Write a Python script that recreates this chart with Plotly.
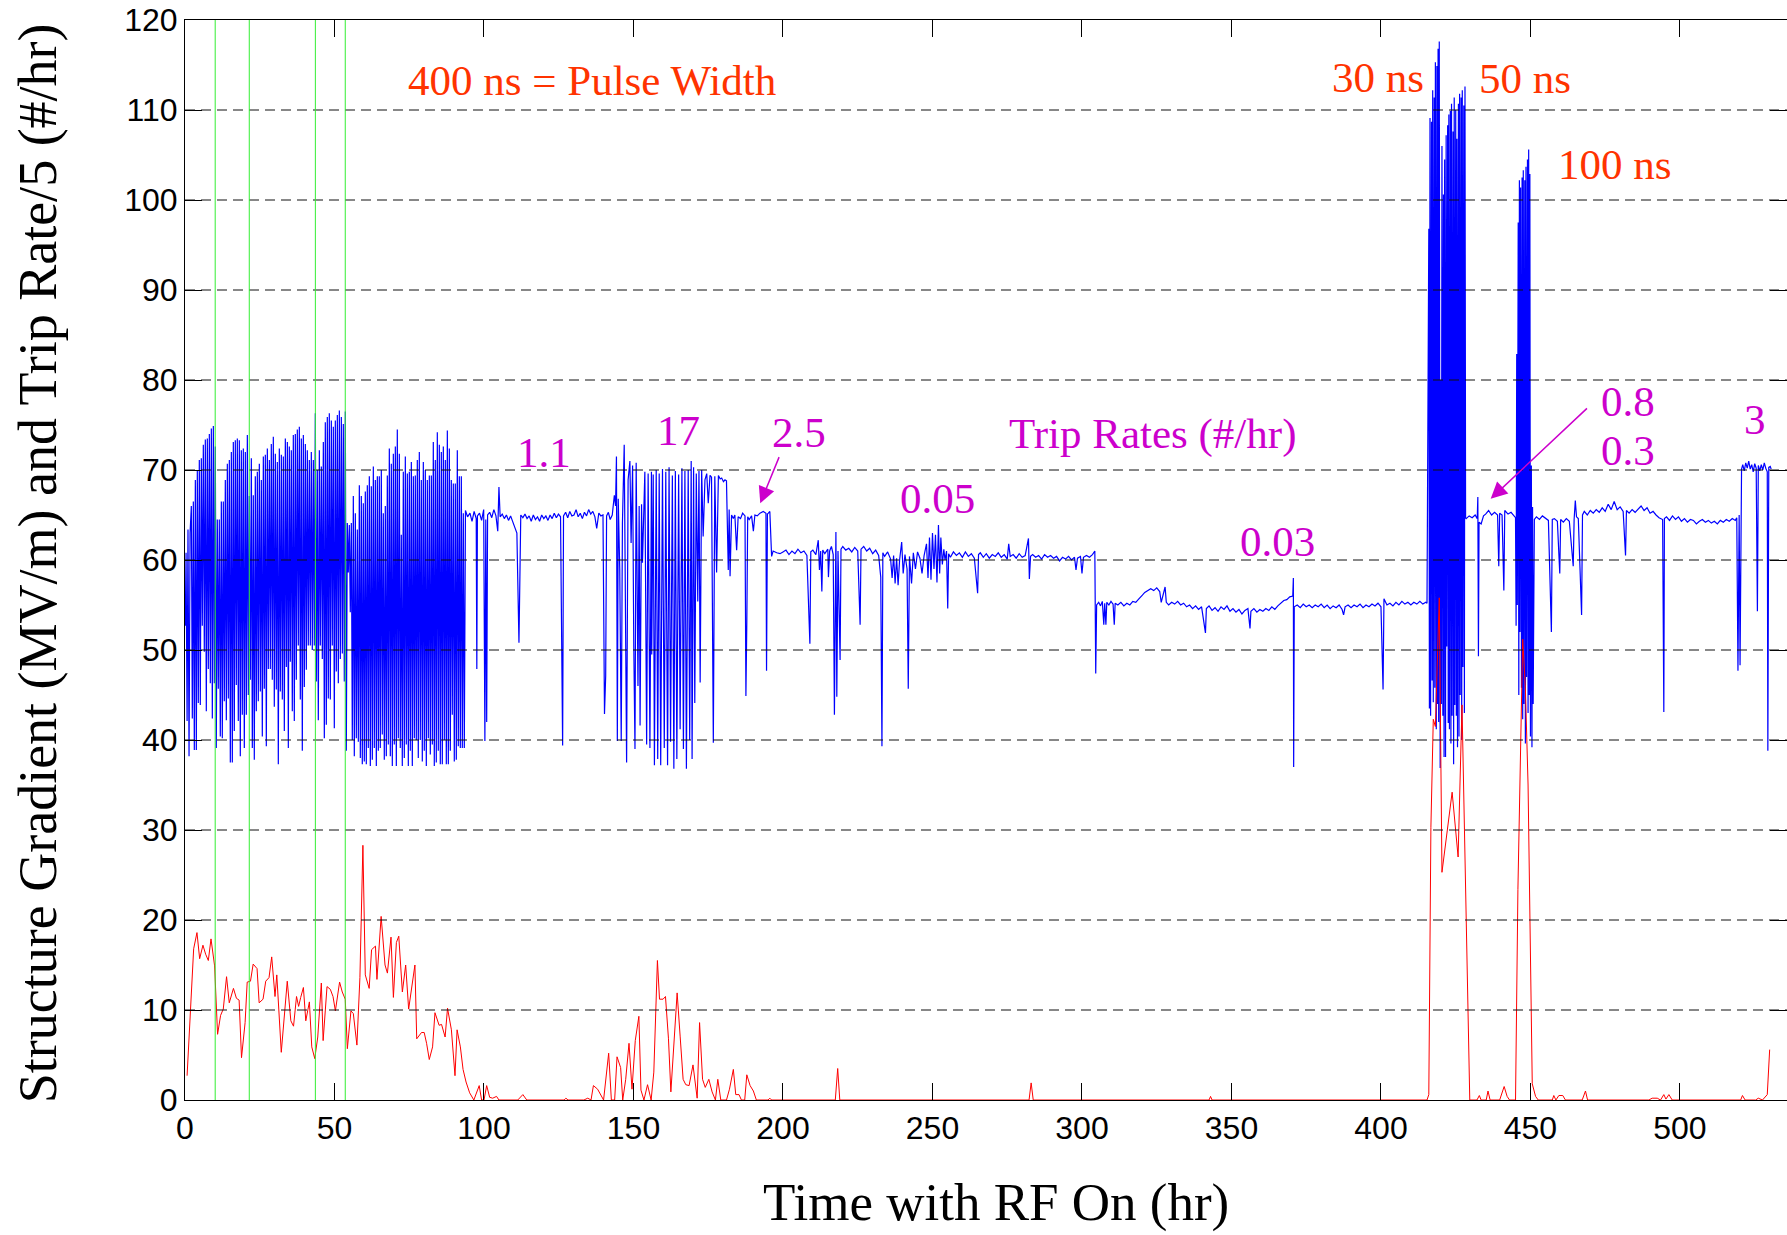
import plotly.graph_objects as go

# ---------------- data ----------------
x_ticks = [0, 50, 100, 150, 200, 250, 300, 350, 400, 450, 500]
y_ticks = [0, 10, 20, 30, 40, 50, 60, 70, 80, 90, 100, 110, 120]
green_marks_hr = [10.1, 21.5, 43.6, 53.6]

# Structure gradient (MV/m), 0-93 hr (conditioning with frequent trips)
blue_hr_a = [
    0.1, 0.35, 0.7, 1.0, 1.35, 1.7, 2.12, 2.45, 2.79, 3.12,
    3.46, 3.79, 4.12, 4.45, 4.79, 5.12, 5.46, 5.79, 6.13, 6.46,
    6.80, 7.13, 7.47, 7.80, 8.14, 8.47, 8.81, 9.14, 9.48, 9.81,
    10.14, 10.47, 10.81, 11.14, 11.48, 11.81, 12.15, 12.48, 12.82, 13.15,
    13.49, 13.82, 14.16, 14.49, 14.83, 15.16, 15.50, 15.83, 16.16, 16.49,
    16.83, 17.16, 17.50, 17.83, 18.17, 18.50, 18.84, 19.17, 19.51, 19.84,
    20.18, 20.51, 20.85, 21.18, 21.52, 21.85, 22.19, 22.52, 22.85, 23.18,
    23.52, 23.85, 24.19, 24.52, 24.86, 25.19, 25.53, 25.86, 26.20, 26.53,
    26.87, 27.20, 27.54, 27.87, 28.21, 28.54, 28.87, 29.20, 29.54, 29.87,
    30.21, 30.54, 30.88, 31.21, 31.55, 31.88, 32.22, 32.55, 32.89, 33.22,
    33.56, 33.89, 34.23, 34.56, 34.89, 35.22, 35.56, 35.89, 36.23, 36.56,
    36.90, 37.23, 37.57, 37.90, 38.24, 38.57, 38.91, 39.24, 39.58, 39.91,
    40.25, 40.58, 40.91, 41.24, 41.58, 41.91, 42.25, 42.58, 42.92, 43.25,
    43.59, 43.92, 44.26, 44.59, 44.93, 45.26, 45.60, 45.93, 46.27, 46.60,
    46.93, 47.26, 47.60, 47.93, 48.27, 48.60, 48.94, 49.27, 49.61, 49.94,
    50.28, 50.61, 50.95, 51.28, 51.62, 51.95, 52.29, 52.62, 52.95, 53.28,
    53.62, 53.95, 54.29, 54.62, 54.96, 55.29, 55.63, 55.96, 56.30, 56.63,
    56.97, 57.30, 57.64, 57.97, 58.31, 58.64, 58.97, 59.30, 59.64, 59.97,
    60.31, 60.64, 60.98, 61.31, 61.65, 61.98, 62.32, 62.65, 62.99, 63.32,
    63.66, 63.99, 64.33, 64.66, 64.99, 65.32, 65.66, 65.99, 66.33, 66.66,
    67.00, 67.33, 67.67, 68.00, 68.34, 68.67, 69.01, 69.34, 69.68, 70.01,
    70.35, 70.68, 71.01, 71.34, 71.68, 72.01, 72.35, 72.68, 73.02, 73.35,
    73.69, 74.02, 74.36, 74.69, 75.03, 75.36, 75.70, 76.03, 76.37, 76.70,
    77.03, 77.36, 77.70, 78.03, 78.37, 78.70, 79.04, 79.37, 79.71, 80.04,
    80.38, 80.71, 81.05, 81.38, 81.72, 82.05, 82.39, 82.72, 83.05, 83.38,
    83.72, 84.05, 84.39, 84.72, 85.06, 85.39, 85.73, 86.06, 86.40, 86.73,
    87.07, 87.40, 87.74, 88.07, 88.41, 88.74, 89.07, 89.40, 89.74, 90.07,
    90.41, 90.74, 91.08, 91.41, 91.75, 92.08, 92.42, 92.75, 93.09, 93.42,
]
blue_mv_a = [
    52.7, 60.8, 42.1, 63.4, 38.2, 63.0, 66.0, 42.4, 66.5, 38.9,
    68.9, 38.9, 70.0, 44.1, 71.1, 43.9, 71.3, 52.7, 72.8, 49.8,
    73.4, 43.2, 73.5, 47.9, 74.0, 46.3, 74.6, 42.4, 74.9, 46.3,
    72.6, 39.1, 64.5, 45.7, 64.5, 40.4, 66.5, 40.2, 66.5, 44.3,
    68.9, 42.2, 70.7, 44.6, 71.1, 37.5, 72.0, 37.5, 73.1, 41.0,
    73.3, 46.1, 73.5, 42.1, 73.3, 38.2, 72.2, 42.8, 72.4, 39.1,
    72.0, 42.8, 73.9, 45.0, 67.1, 46.7, 71.3, 39.1, 67.2, 37.8,
    69.3, 43.2, 69.8, 44.3, 70.7, 45.4, 68.9, 40.4, 71.5, 45.7,
    71.7, 39.3, 72.4, 47.9, 71.1, 47.9, 72.9, 46.7, 73.7, 43.7,
    71.8, 45.6, 70.9, 37.3, 72.4, 45.4, 71.7, 44.5, 71.5, 41.0,
    73.5, 48.1, 73.1, 39.1, 72.6, 48.7, 72.2, 43.2, 73.9, 42.1,
    74.0, 46.7, 74.5, 50.5, 74.8, 44.5, 73.5, 38.8, 73.9, 45.9,
    72.9, 47.8, 72.2, 50.5, 71.1, 50.5, 72.0, 50.0, 71.1, 50.5,
    76.3, 46.5, 70.0, 42.2, 72.2, 50.5, 70.4, 49.0, 73.1, 40.2,
    75.3, 41.7, 75.9, 44.6, 76.3, 44.5, 75.5, 50.5, 74.8, 41.3,
    75.5, 47.6, 76.1, 46.3, 76.6, 49.0, 75.9, 49.6, 75.1, 46.5,
    76.5, 38.8, 64.1, 58.6, 63.9, 54.2, 64.1, 40.0, 67.1, 38.2,
    65.2, 40.2, 63.4, 39.8, 68.3, 38.0, 67.1, 37.3, 66.3, 37.6,
    67.6, 37.3, 68.3, 39.1, 69.3, 37.1, 68.2, 37.8, 70.4, 39.1,
    68.9, 37.1, 69.3, 38.8, 69.3, 39.1, 70.0, 40.6, 65.2, 37.8,
    66.0, 38.2, 69.4, 39.5, 72.4, 38.2, 70.7, 37.1, 71.8, 39.5,
    72.6, 37.1, 74.5, 40.2, 71.8, 39.1, 62.8, 37.1, 69.8, 38.0,
    71.5, 39.5, 69.6, 37.1, 69.8, 38.8, 70.9, 37.1, 69.3, 40.2,
    69.4, 40.0, 71.1, 38.0, 72.0, 40.0, 68.9, 37.6, 70.9, 38.8,
    70.0, 37.1, 68.9, 40.2, 69.4, 38.4, 69.4, 39.5, 73.1, 37.1,
    71.1, 37.5, 74.2, 38.8, 72.8, 37.3, 72.0, 37.3, 72.6, 40.0,
    71.1, 37.3, 74.4, 37.3, 72.4, 38.8, 68.9, 42.8, 68.5, 37.6,
    68.5, 37.8, 72.2, 39.3, 69.3, 39.1, 69.3, 39.1, 65.2, 39.1,
]

# 93-199 hr
blue_hr_b = [
    93.8, 94.5, 95.3, 96.0, 96.7, 97.4, 97.6, 97.8, 98.5, 99.2,
    99.9, 100.3, 100.6, 100.9, 101.2, 101.9, 102.6, 103.3, 104.0, 104.6,
    105.0, 105.4, 106.1, 106.8, 107.5, 108.2, 108.9, 109.6, 110.3, 111.0,
    111.7, 112.0, 112.3, 113.0, 113.7, 114.4, 115.1, 115.8, 116.5, 117.2,
    117.9, 118.6, 119.3, 120.0, 120.7, 121.4, 122.1, 122.8, 123.5, 124.2,
    124.9, 125.6, 126.3, 126.6, 127.3, 128.0, 128.7, 129.4, 130.1, 130.8,
    131.5, 132.2, 132.9, 133.6, 134.3, 135.0, 135.7, 136.4, 137.1, 137.7,
    138.4, 139.1, 139.8, 140.3, 140.7, 141.0, 141.6, 142.2, 142.9, 143.6,
    144.0, 144.3, 144.6, 144.9, 145.4, 145.9, 146.3, 146.9, 147.2, 147.7,
    148.2, 148.8, 149.2, 149.7, 150.1, 150.5, 150.9, 151.5, 151.9, 152.2,
    152.7, 153.0, 153.8, 154.4, 154.9, 155.5, 156.0, 156.1, 156.6, 157.0,
    157.6, 158.1, 158.6, 159.1, 159.7, 160.3, 160.8, 161.4, 161.9, 162.4,
    163.0, 163.5, 164.0, 164.5, 165.1, 165.6, 166.2, 166.7, 167.2, 167.7,
    168.3, 168.8, 169.3, 169.6, 170.1, 170.5, 171.0, 171.5, 171.9, 172.3,
    172.8, 173.3, 173.9, 174.5, 175.0, 175.6, 176.1, 176.7, 177.2, 177.8,
    178.4, 179.0, 179.5, 180.1, 180.6, 181.1, 181.7, 182.0, 182.3, 182.8,
    183.4, 183.9, 184.5, 185.0, 185.8, 186.5, 187.3, 187.6, 187.9, 188.2,
    188.7, 189.5, 190.1, 190.6, 191.4, 192.3, 193.4, 194.3, 194.5, 194.8,
    195.1, 195.6, 196.2, 196.7, 197.9, 199.0,
]
blue_mv_b = [
    65.5, 64.8, 65.2, 64.3, 65.4, 64.6, 47.9, 64.9, 65.2, 64.4,
    65.6, 39.9, 64.5, 42.0, 65.0, 65.3, 64.7, 65.6, 64.9, 63.2,
    68.1, 64.8, 65.1, 64.6, 65.0, 64.4, 64.9, 64.2, 63.5, 63.0,
    50.8, 59.5, 65.0, 64.7, 65.1, 64.6, 64.9, 64.3, 65.0, 64.5,
    64.8, 64.3, 65.0, 64.6, 64.9, 64.4, 65.0, 64.6, 65.2, 64.7,
    65.1, 64.8, 39.4, 64.9, 65.3, 64.7, 65.4, 64.9, 65.0, 65.6,
    64.8, 65.2, 64.6, 65.3, 64.9, 65.6, 65.1, 65.4, 64.8, 63.5,
    65.2, 64.9, 65.0, 42.9, 47.1, 64.9, 65.3, 64.5, 65.0, 67.2,
    66.0, 71.5, 39.9, 66.8, 59.0, 39.9, 64.1, 72.8, 56.0, 37.5,
    68.9, 71.0, 61.9, 70.5, 50.4, 39.0, 70.8, 46.0, 66.0, 41.6,
    66.2, 59.7, 69.8, 39.5, 69.6, 39.1, 69.8, 49.5, 69.5, 37.2,
    70.0, 37.9, 69.6, 37.2, 70.1, 39.1, 69.8, 37.2, 70.3, 39.8,
    69.4, 36.8, 69.9, 37.9, 69.5, 41.2, 70.2, 39.0, 69.9, 36.8,
    70.0, 40.0, 71.0, 37.9, 70.3, 44.1, 69.6, 55.4, 69.9, 46.4,
    70.0, 62.6, 68.9, 69.6, 66.3, 69.4, 69.2, 39.7, 69.3, 58.6,
    69.4, 69.0, 69.1, 68.7, 68.9, 68.8, 58.9, 65.6, 58.2, 65.0,
    64.6, 65.0, 61.1, 64.8, 64.6, 65.2, 64.9, 44.9, 53.0, 64.8,
    64.5, 64.9, 63.2, 65.0, 64.9, 65.2, 65.4, 65.2, 47.7, 65.1,
    65.2, 65.4, 60.4, 61.0, 60.8, 60.7,
]

# 200-305 hr
blue_hr_c = [
    200.0, 201.0, 202.0, 203.0, 204.0, 205.0, 206.0, 207.0, 208.0, 209.0,
    209.3, 210.0, 211.0, 211.8, 212.2, 212.6, 213.0, 213.3, 214.0, 215.0,
    215.2, 215.6, 216.2, 216.8, 217.2, 217.5, 217.7, 218.0, 218.4, 219.1,
    219.4, 220.0, 221.0, 222.0, 223.0, 224.0, 225.0, 225.8, 226.1, 227.0,
    228.0, 229.0, 230.0, 231.0, 232.0, 232.7, 233.1, 233.4, 234.0, 235.0,
    236.0, 236.5, 237.0, 237.5, 238.0, 238.5, 239.0, 239.7, 240.2, 240.8,
    241.5, 241.9, 242.3, 243.0, 243.6, 244.3, 245.0, 245.8, 246.5, 247.2,
    248.0, 248.5, 249.0, 249.5, 250.0, 250.5, 251.0, 251.5, 252.0, 252.4,
    252.8, 253.3, 253.8, 254.2, 254.7, 255.1, 255.4, 256.0, 257.0, 258.0,
    259.0, 260.0, 261.0, 262.0, 263.0, 264.0, 265.1, 265.4, 266.0, 267.0,
    268.0, 269.0, 270.0, 271.0, 272.0, 273.0, 274.0, 275.0, 275.5, 276.0,
    277.0, 278.0, 279.0, 280.0, 281.0, 282.1, 282.4, 282.8, 283.5, 284.5,
    285.5, 286.5, 287.5, 288.5, 289.5, 290.5, 291.5, 292.5, 293.5, 294.5,
    295.5, 296.5, 297.5, 298.0, 298.5, 299.5, 300.0, 300.5, 301.5, 302.5,
    303.5, 304.3, 304.6,
]
blue_mv_c = [
    60.9, 61.1, 60.6, 61.0, 60.7, 61.2, 60.8, 61.0, 60.5, 50.7,
    60.9, 61.1, 60.6, 62.2, 58.9, 61.0, 56.5, 61.1, 60.7, 61.2,
    58.1, 61.0, 61.5, 60.6, 42.8, 60.9, 63.1, 44.8, 61.0, 48.9,
    61.2, 61.5, 61.1, 61.3, 60.9, 61.4, 61.0, 52.8, 61.2, 61.5,
    61.0, 61.3, 60.7, 61.1, 60.5, 58.1, 39.3, 60.8, 60.4, 60.9,
    60.1, 58.0, 60.5, 57.4, 60.2, 57.2, 60.0, 62.0, 58.5, 60.6,
    59.0, 45.7, 60.4, 57.4, 60.8, 59.0, 60.9, 60.2, 58.5, 60.5,
    61.8, 58.0, 62.5, 57.8, 63.0, 59.0, 62.8, 57.5, 63.9, 58.5,
    62.5, 59.5, 61.2, 60.0, 61.0, 54.6, 60.7, 60.3, 60.9, 60.5,
    60.8, 60.3, 60.9, 60.4, 60.7, 60.2, 56.3, 60.6, 60.8, 60.3,
    60.7, 60.2, 60.6, 60.4, 60.8, 60.3, 60.6, 60.1, 61.8, 60.4,
    60.6, 60.2, 60.7, 60.3, 60.5, 62.4, 57.9, 60.4, 60.6, 60.3,
    60.5, 60.1, 60.6, 60.3, 60.5, 60.2, 60.4, 59.9, 60.3, 60.1,
    60.4, 60.0, 60.3, 58.9, 60.2, 60.4, 58.5, 60.3, 60.5, 60.3,
    60.6, 61.0, 47.4,
]

# 305-415 hr
blue_hr_d = [
    304.9, 305.6, 306.2, 306.8, 307.3, 307.6, 308.0, 308.3, 309.0, 309.7,
    310.4, 310.8, 311.1, 312.0, 313.0, 314.0, 315.0, 316.0, 317.0, 318.0,
    318.8, 319.5, 320.2, 321.0, 322.0, 323.0, 324.0, 325.0, 326.0, 326.5,
    327.8, 328.2, 329.0, 330.0, 331.0, 332.0, 333.0, 334.0, 335.0, 336.0,
    337.0, 338.0, 339.0, 340.0, 341.3, 341.6, 342.5, 343.5, 344.5, 345.5,
    346.5, 347.5, 348.5, 349.5, 350.5, 351.5, 352.5, 353.5, 354.5, 355.5,
    356.2, 356.5, 357.5, 358.5, 359.5, 360.5, 361.5, 362.5, 363.5, 364.5,
    365.5, 366.5, 367.5, 368.5, 369.5, 370.5, 370.7, 370.8, 371.0, 372.0,
    373.0, 374.0, 375.0, 376.0, 377.0, 378.0, 379.0, 380.0, 381.0, 382.0,
    383.0, 384.0, 385.0, 386.0, 387.0, 387.5, 388.0, 389.0, 390.0, 391.0,
    392.0, 393.0, 394.0, 395.0, 396.0, 397.0, 398.0, 399.0, 400.0, 400.7,
    401.0, 402.0, 403.0, 404.0, 405.0, 406.0, 407.0, 408.0, 409.0, 410.0,
    411.0, 412.0, 413.0, 414.0, 415.0, 415.4,
]
blue_mv_d = [
    55.0, 55.3, 54.9, 55.4, 52.8, 55.2, 52.8, 55.3, 55.0, 55.4,
    55.1, 52.8, 55.2, 55.0, 55.3, 54.9, 55.2, 55.0, 55.4, 55.3,
    55.6, 55.8, 56.1, 56.4, 56.6, 56.8, 56.6, 56.9, 56.5, 55.3,
    57.0, 55.3, 55.0, 55.3, 55.1, 55.4, 55.0, 55.2, 54.8, 55.0,
    54.6, 54.9, 54.5, 54.8, 51.9, 54.6, 54.9, 54.4, 54.7, 54.3,
    54.8, 54.5, 54.9, 54.3, 54.6, 54.2, 54.5, 54.0, 54.4, 54.6,
    52.4, 54.3, 54.6, 54.2, 54.5, 54.3, 54.6, 54.4, 54.8, 54.5,
    54.9, 55.2, 55.5, 55.6, 55.9, 56.0, 58.0, 37.0, 54.8, 55.0,
    54.7, 55.1, 54.8, 55.0, 54.7, 55.0, 54.8, 55.1, 54.7, 55.0,
    54.6, 54.9, 54.7, 55.0, 54.5, 53.9, 54.8, 55.0, 54.7, 55.0,
    54.8, 55.1, 54.7, 55.0, 54.8, 55.1, 54.9, 55.2, 54.8, 45.6,
    55.7, 55.0, 55.2, 54.9, 55.3, 55.0, 55.4, 55.1, 55.3, 55.0,
    55.3, 55.1, 55.4, 55.1, 55.3, 55.2,
]

# 415-531 hr (short-pulse runs at 30, 50, 100 ns, then 400 ns again)
blue_hr_e = [
    416.0, 416.2, 416.4, 416.6, 416.9, 417.1, 417.3, 417.5, 417.8, 418.0,
    418.2, 418.5, 418.7, 418.9, 419.1, 419.3, 419.5, 419.8, 420.0, 420.2,
    420.4, 420.7, 420.9, 421.1, 421.3, 421.6, 421.8, 422.0, 422.3, 422.5,
    422.7, 422.9, 423.2, 423.4, 423.6, 423.8, 424.1, 424.3, 424.5, 424.7,
    425.0, 425.2, 425.4, 425.6, 425.9, 426.1, 426.3, 426.5, 426.8, 427.0,
    427.2, 427.4, 427.7, 427.9, 428.1, 428.3, 428.5, 429.5, 430.5, 431.5,
    432.2, 432.4, 432.6, 432.8, 433.5, 434.3, 435.0, 436.0, 437.0, 438.0,
    439.0, 439.4, 439.7, 440.5, 441.1, 441.4, 442.5, 443.5, 444.5, 445.0,
    445.2, 445.4, 445.6, 445.9, 446.1, 446.3, 446.5, 446.7, 447.0, 447.2,
    447.4, 447.6, 447.8, 448.1, 448.3, 448.5, 448.7, 449.0, 449.2, 449.4,
    449.6, 449.8, 450.0, 450.3, 450.5, 450.7, 450.9, 451.1, 451.3, 452.0,
    453.0, 454.0, 455.0, 456.0, 457.0, 457.3, 458.0, 459.0, 459.8, 460.1,
    461.0, 462.0, 463.0, 464.3, 464.6, 465.0, 465.4, 466.0, 467.1, 467.4,
    468.0, 469.0, 470.0, 471.0, 472.0, 473.0, 474.0, 475.0, 476.0, 477.0,
    478.0, 479.0, 480.0, 481.0, 481.8, 482.1, 483.0, 484.0, 485.0, 486.0,
    487.0, 488.0, 489.0, 490.0, 491.0, 492.0, 493.0, 494.2, 494.4, 494.6,
    494.8, 495.5, 496.5, 497.5, 498.5, 499.5, 500.5, 501.5, 502.5, 503.5,
    504.5, 505.5, 506.5, 507.5, 508.5, 509.5, 510.5, 511.5, 512.5, 513.5,
    514.5, 515.5, 516.5, 517.5, 518.5, 519.0, 519.4, 519.8, 520.1, 520.6,
    521.0, 521.5, 522.0, 522.5, 523.0, 523.5, 524.0, 524.5, 525.0, 525.5,
    525.9, 526.2, 526.7, 527.2, 527.7, 528.2, 528.7, 529.2, 529.4, 529.7,
    530.2, 530.5,
]
blue_mv_e = [
    96.8, 43.5, 109.1, 42.7, 108.7, 46.6, 112.2, 44.2, 111.4, 45.8,
    115.3, 41.2, 114.9, 44.0, 116.8, 42.0, 117.6, 36.9, 80.0, 44.0,
    106.0, 42.7, 100.6, 38.1, 104.5, 38.1, 107.2, 50.4, 108.3, 41.9,
    109.5, 41.2, 109.9, 39.6, 110.7, 42.7, 107.6, 37.3, 111.4, 43.9,
    110.0, 42.7, 106.8, 39.2, 110.7, 40.4, 111.8, 45.0, 111.4, 40.0,
    112.2, 48.1, 110.5, 43.0, 112.6, 64.7, 64.6, 64.9, 64.7, 65.0,
    64.6, 67.0, 49.3, 64.2, 64.0, 64.9, 65.1, 65.5, 65.0, 65.3,
    65.0, 59.3, 65.2, 65.0, 56.6, 65.5, 65.1, 65.3, 64.9, 64.7,
    52.7, 82.9, 55.0, 97.5, 45.0, 102.2, 52.0, 101.4, 45.8, 102.5,
    42.3, 103.3, 44.0, 102.2, 39.6, 103.7, 47.0, 104.5, 43.0, 105.6,
    45.0, 102.9, 40.4, 70.5, 39.2, 65.9, 44.0, 60.8, 64.5, 64.8,
    64.5, 64.9, 64.6, 64.4, 52.0, 64.5, 64.6, 64.3, 58.5, 64.5,
    64.2, 64.6, 64.3, 59.3, 64.5, 66.6, 64.8, 64.6, 53.9, 65.0,
    65.4, 65.0, 65.5, 65.2, 65.6, 65.3, 65.8, 65.4, 66.2, 65.6,
    66.5, 65.6, 65.9, 65.4, 60.5, 65.5, 65.2, 65.6, 65.3, 65.7,
    66.0, 65.5, 65.8, 65.2, 65.4, 65.0, 64.7, 64.5, 52.7, 43.1,
    64.6, 64.8, 64.4, 64.9, 64.5, 64.8, 64.3, 64.6, 64.2, 64.5,
    64.4, 64.0, 64.3, 64.5, 64.2, 64.4, 64.1, 64.3, 64.0, 64.4,
    64.2, 64.5, 64.3, 64.6, 64.4, 64.7, 47.7, 65.0, 48.3, 70.1,
    70.6, 69.9, 70.8, 70.2, 71.0, 70.1, 70.6, 69.8, 70.7, 70.2,
    54.3, 70.5, 69.9, 70.6, 70.0, 70.8, 70.2, 69.8, 38.8, 70.3,
    70.4, 70.1,
]

# Trip rate / 5 (#/hr)
red_hr = [
    0.7, 2.9, 4.0, 4.9, 6.0, 6.9, 7.8, 8.7, 9.9, 10.9,
    11.9, 12.8, 13.9, 14.8, 16.2, 17.2, 18.1, 18.9, 20.1, 20.8,
    21.9, 22.8, 24.1, 24.8, 26.1, 27.0, 28.1, 29.0, 30.1, 30.7,
    32.2, 33.1, 34.2, 35.4, 36.3, 37.3, 38.0, 38.7, 39.6, 40.4,
    41.6, 42.4, 43.4, 44.4, 45.6, 46.2, 47.5, 48.6, 49.5, 50.3,
    51.7, 52.6, 53.6, 54.3, 55.5, 56.3, 57.5, 58.5, 59.5, 60.3,
    61.6, 62.4, 63.7, 64.2, 65.6, 66.9, 67.7, 68.9, 69.7, 70.7,
    71.5, 72.7, 73.8, 74.8, 75.9, 76.9, 77.5, 79.1, 80.0, 80.8,
    81.7, 82.8, 83.6, 85.0, 85.8, 87.0, 87.8, 89.1, 90.3, 91.0,
    92.1, 93.0, 94.0, 95.2, 96.6, 98.4, 99.2, 100.0, 100.9, 101.9,
    102.9, 104.2, 105.0, 111.3, 113.0, 114.3, 126.8, 127.4, 128.1, 133.4,
    134.7, 135.8, 136.6, 138.0, 140.0, 141.7, 142.6, 143.7, 144.5, 145.7,
    146.4, 147.4, 148.5, 149.5, 150.6, 151.8, 152.5, 153.5, 154.7, 155.9,
    156.8, 158.0, 158.7, 159.9, 160.7, 161.7, 162.5, 163.6, 164.6, 165.6,
    166.6, 167.5, 168.6, 169.9, 171.3, 172.1, 173.1, 174.0, 175.2, 176.3,
    177.4, 178.2, 179.2, 181.1, 182.1, 183.4, 184.2, 185.3, 186.1, 187.2,
    187.9, 189.0, 190.1, 191.1, 195.0, 195.6, 196.2, 217.5, 218.3, 219.0,
    282.3, 283.0, 283.7, 342.5, 343.0, 343.5, 415.4, 416.0, 416.7, 417.5,
    418.2, 419.5, 420.4, 423.8, 425.8, 427.1, 429.7, 432.1, 432.9, 433.5,
    435.2, 435.8, 436.5, 439.7, 441.2, 442.2, 443.0, 445.0, 445.8, 447.4,
    448.3, 449.2, 450.6, 451.7, 452.6, 457.3, 457.8, 458.5, 459.5, 460.8,
    461.7, 467.3, 468.4, 469.1, 489.6, 490.7, 492.4, 493.5, 494.6, 495.3,
    496.3, 497.4, 520.3, 520.9, 521.8, 525.3, 526.2, 527.6, 529.2, 530.0,
]
red_rate = [
    2.7, 16.8, 18.6, 15.7, 17.2, 16.2, 15.5, 17.9, 14.9, 7.3,
    9.4, 10.1, 13.7, 10.8, 12.4, 11.3, 11.1, 4.7, 8.6, 13.1,
    13.2, 15.1, 14.6, 10.8, 11.2, 13.2, 13.6, 15.9, 11.5, 13.9,
    5.3, 8.6, 13.2, 8.8, 8.2, 11.5, 10.4, 11.4, 12.5, 8.8,
    10.9, 5.9, 4.6, 7.0, 13.0, 6.6, 12.6, 12.3, 11.5, 9.9,
    13.1, 12.0, 11.2, 5.7, 9.9, 9.6, 6.1, 13.6, 28.3, 13.9,
    12.4, 16.7, 17.1, 13.4, 20.4, 15.0, 14.1, 18.1, 11.4, 17.5,
    18.2, 12.0, 15.0, 10.1, 12.5, 15.0, 6.8, 7.5, 7.5, 6.3,
    4.5, 5.9, 9.7, 8.3, 8.4, 7.0, 10.2, 7.8, 2.7, 7.8,
    5.9, 3.4, 2.0, 0.8, 0.0, 1.6, 0.0, 0.0, 1.6, 0.3,
    0.2, 0.4, 0.0, 0.0, 0.6, 0.0, 0.0, 0.2, 0.0, 0.0,
    0.2, 0.0, 1.6, 1.2, 0.0, 5.2, 0.0, 0.0, 4.8, 3.6,
    0.0, 2.3, 6.3, 1.2, 6.6, 9.3, 1.1, 0.0, 1.7, 0.0,
    3.1, 15.5, 11.2, 11.2, 11.5, 6.8, 0.9, 6.8, 11.9, 7.1,
    2.3, 1.7, 1.6, 3.9, 0.2, 8.6, 2.3, 1.4, 2.3, 0.9,
    0.0, 2.3, 0.0, 0.0, 1.2, 3.4, 0.6, 0.6, 0.0, 0.0,
    2.8, 1.6, 1.0, 0.0, 0.0, 0.2, 0.0, 0.0, 3.5, 0.0,
    0.0, 1.9, 0.0, 0.0, 0.4, 0.0, 0.0, 0.6, 30.3, 42.3,
    41.5, 55.8, 25.3, 34.2, 27.0, 43.9, 0.0, 0.0, 0.5, 0.0,
    0.0, 1.0, 0.0, 0.0, 1.5, 0.4, 0.0, 0.0, 23.4, 51.2,
    45.8, 35.0, 1.8, 0.4, 0.0, 0.0, 0.5, 0.0, 0.5, 0.5,
    0.0, 0.0, 1.0, 0.0, 0.0, 0.2, 0.2, 0.0, 0.6, 0.1,
    0.6, 0.0, 0.0, 0.5, 0.0, 0.0, 0.2, 0.0, 0.6, 5.6,
]

# ---------------- build ----------------
segments = [(blue_hr_a, blue_mv_a), (blue_hr_b, blue_mv_b), (blue_hr_c, blue_mv_c),
            (blue_hr_d, blue_mv_d), (blue_hr_e, blue_mv_e), (red_hr, red_rate)]
for i, (h, v) in enumerate(segments):
    if len(h) != len(v):
        raise ValueError(f"segment {i}: {len(h)} hours vs {len(v)} values")

blue_hr = blue_hr_a + blue_hr_b + blue_hr_c + blue_hr_d + blue_hr_e
blue_mv = blue_mv_a + blue_mv_b + blue_mv_c + blue_mv_d + blue_mv_e

SERIF = "Liberation Serif, Times New Roman, serif"
SANS = "Liberation Sans, Arial, sans-serif"
RED_TXT = "#FF3300"
MAG = "#CC00CC"

fig = go.Figure()
fig.add_trace(go.Scatter(x=blue_hr, y=blue_mv, mode="lines",
                         line=dict(color="#0000FF", width=1.2), hoverinfo="skip"))
fig.add_trace(go.Scatter(x=red_hr, y=red_rate, mode="lines",
                         line=dict(color="#FF0000", width=1), hoverinfo="skip"))

# dashed horizontal grid drawn above the data
for yv in y_ticks[1:-1]:
    fig.add_shape(type="line", xref="paper", x0=0, x1=1, yref="y", y0=yv, y1=yv,
                  line=dict(color="#111111", width=1, dash="10px,6px"), layer="above")
# green markers
for gx in green_marks_hr:
    fig.add_shape(type="line", xref="x", x0=gx, x1=gx, yref="paper", y0=0, y1=1,
                  line=dict(color="#33EE33", width=1), layer="above")

def label(text, x, y, color, size=43):
    fig.add_annotation(x=x, y=y, xref="x", yref="y", text=text, showarrow=False,
                       xanchor="left", yanchor="middle",
                       font=dict(family=SERIF, size=size, color=color))

label("400 ns = Pulse Width", 73.8, 113.3, RED_TXT)
label("30 ns", 383.0, 113.6, RED_TXT)
label("50 ns", 432.0, 113.5, RED_TXT)
label("100 ns", 458.6, 104.0, RED_TXT)
label("1.1", 110.4, 72.0, MAG)
label("17", 157.3, 74.4, MAG)
label("2.5", 195.6, 74.2, MAG)
label("0.05", 238.4, 66.8, MAG)
label("Trip Rates (#/hr)", 275.0, 74.0, MAG)
label("0.03", 352.1, 62.1, MAG)
label("0.8", 472.8, 77.6, MAG)
label("0.3", 472.8, 72.2, MAG)
label("3", 520.7, 75.6, MAG)

# arrows
for (hx, hy, tx, ty) in [(192.4, 66.3, 198.9, 71.6), (436.7, 66.8, 469.4, 77.0)]:
    fig.add_annotation(x=hx, y=hy, ax=tx, ay=ty, xref="x", yref="y", axref="x", ayref="y",
                       text="", showarrow=True, arrowhead=2, arrowsize=2.2,
                       arrowwidth=1.5, arrowcolor=MAG)

# axis titles
fig.add_annotation(text="Time with RF On (hr)", xref="paper", yref="paper", x=0.506, y=0,
                   yshift=-102, xanchor="center", yanchor="middle", showarrow=False,
                   borderpad=0,
                   font=dict(family=SERIF, size=53, color="black"))
fig.add_annotation(text="Structure Gradient (MV/m) and Trip Rate/5 (#/hr)", xref="paper",
                   yref="paper", x=0, y=0.497, xshift=-147, xanchor="center",
                   yanchor="middle", textangle=-90, showarrow=False,
                   font=dict(family=SERIF, size=54, color="black"))

axis_common = dict(ticks="inside", ticklen=17, tickwidth=1, tickcolor="black",
                   showline=True, linecolor="black", linewidth=1, mirror="ticks",
                   zeroline=False, showgrid=False, layer="above traces",
                   tickfont=dict(family=SANS, size=32, color="black"))
fig.update_layout(
    width=1787, height=1235,
    margin=dict(l=185, r=0, t=20, b=135),
    paper_bgcolor="white", plot_bgcolor="white",
    showlegend=False,
    xaxis=dict(range=[0, 535.8], tickmode="array", tickvals=x_ticks, **axis_common),
    yaxis=dict(range=[0, 120], tickmode="array", tickvals=y_ticks, **axis_common),
)

fig.write_html("out.html")
